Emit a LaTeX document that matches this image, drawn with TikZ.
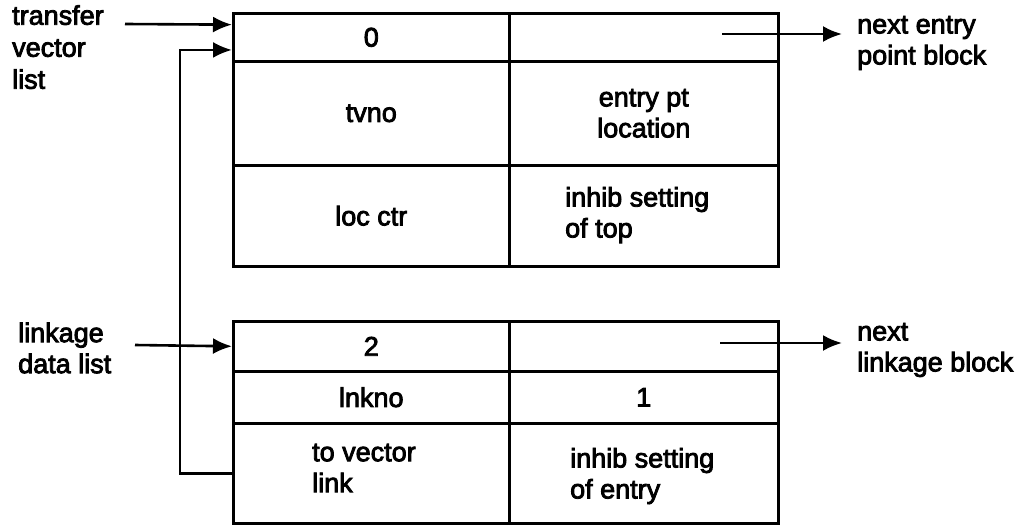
\documentclass[tikz,border=0pt]{standalone}
\usepackage{fontspec}
\setmainfont{Liberation Sans}[FakeBold=3]
\usetikzlibrary{arrows.meta,calc}
\begin{document}
\begin{tikzpicture}[x=1pt,y=-1pt,
  cell/.style={draw,line width=2.6pt,inner sep=0pt,anchor=north west,align=center},
  lbl/.style={inner sep=0pt,align=left,font=\fontsize{27}{31}\selectfont},
  arr/.style={line width=2.6pt,-{Latex[length=19pt,width=16pt]}},
  every node/.append style={font=\fontsize{27}{31}\selectfont}]
\useasboundingbox (0,0) rectangle (1029,525);
% top block
\node[cell,minimum width=276pt,minimum height=48pt] (t0) at (232,12) {0};
\node[cell,minimum width=269pt,minimum height=48pt] (t0r) at (508,12) {};
\node[cell,minimum width=276pt,minimum height=104pt] (t1) at (232,60) {tvno};
\node[cell,minimum width=269pt,minimum height=104pt] (t1r) at (508,60) {entry pt\\location};
\node[cell,minimum width=276pt,minimum height=101pt] (t2) at (232,164) {loc ctr};
\node[cell,minimum width=269pt,minimum height=101pt] (t2r) at (508,164) {};
\node[lbl,anchor=west] (t2txt) at (565,215) {inhib setting\\of top};
% bottom block
\node[cell,minimum width=276pt,minimum height=50pt] (b0) at (232,320) {2};
\node[cell,minimum width=269pt,minimum height=50pt] (b0r) at (508,320) {};
\node[cell,minimum width=276pt,minimum height=52pt] (b1) at (232,370) {lnkno};
\node[cell,minimum width=269pt,minimum height=52pt] (b1r) at (508,370) {1};
\node[cell,minimum width=276pt,minimum height=100pt] (b2) at (232,422) {};
\node[cell,minimum width=269pt,minimum height=100pt] (b2r) at (508,422) {};
\node[lbl,anchor=west] (b2txt) at (312,468) {to vector\\link};
\node[lbl,anchor=west] (b2rtxt) at (570,476) {inhib setting\\of entry};
% outside labels
\node[lbl,anchor=north west,font=\fontsize{27}{32}\selectfont] (tv) at (12,5) {transfer\\vector\\list};
\node[lbl,anchor=west] (ld) at (18,348) {linkage\\data list};
\node[lbl,anchor=west] (ne) at (857,43) {next entry\\point block};
\node[lbl,anchor=west] (nl) at (857,350) {next\\linkage block};
% connector points
\coordinate (tvs) at (125,24);
\coordinate (tin1) at ($(t0.north west)!0.25!(t0.south west)$);
\coordinate (tin2) at ($(t0.north west)!0.75!(t0.south west)$);
\coordinate (lds) at (135,345);
\coordinate (nes) at (722,34);
\coordinate (nee) at (842,34);
\coordinate (nls) at (720,343);
\coordinate (nle) at (842,343);
% connectors
\draw[arr] (b2.west) -- ++(-52,0) |- (tin2);
\draw[arr] (tvs) -- (tin1);
\draw[arr] (lds) -- (b0.west);
\draw[arr] (nes) -- (nee);
\draw[arr] (nls) -- (nle);
\end{tikzpicture}
\end{document}
